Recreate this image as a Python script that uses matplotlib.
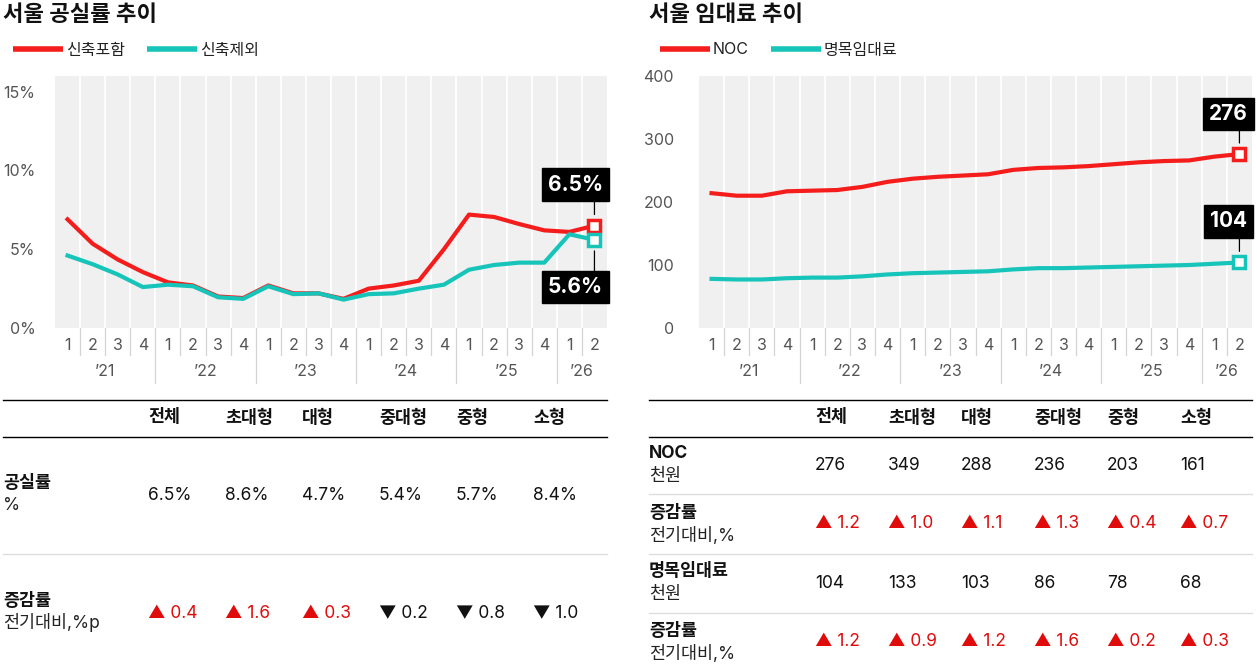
import matplotlib
matplotlib.use("Agg")
import matplotlib.pyplot as plt
import matplotlib.transforms as mtransforms

plt.rcParams['font.family'] = ['Inter', 'Noto Sans CJK KR', 'DejaVu Sans']

# ---- data ----
quarters = ['1', '2', '3', '4', '1', '2', '3', '4', '1', '2', '3', '4',
            '1', '2', '3', '4', '1', '2', '3', '4', '1', '2']
years = ['’21', '’22', '’23', '’24', '’25', '’26']
year_centers = [1.5, 5.5, 9.5, 13.5, 17.5, 20.5]

vac_incl = [6.9, 5.35, 4.35, 3.55, 2.9, 2.7, 2.0, 1.9, 2.7, 2.2, 2.2, 1.85,
            2.5, 2.7, 3.0, 5.0, 7.2, 7.05, 6.6, 6.2, 6.1, 6.5]
vac_excl = [4.6, 4.05, 3.4, 2.6, 2.75, 2.65, 1.95, 1.85, 2.65, 2.15, 2.2, 1.8,
            2.15, 2.2, 2.5, 2.75, 3.7, 4.0, 4.15, 4.15, 5.95, 5.6]

noc = [214, 210, 210, 217, 218, 219, 224, 232, 237, 240, 242, 244,
       251, 254, 255, 257, 260, 263, 265, 266, 272, 276]
rent = [78, 77, 77, 79, 80, 80, 82, 85, 87, 88, 89, 90,
        93, 95, 95, 96, 97, 98, 99, 100, 102, 104]

sizes = ['전체', '초대형', '대형', '중대형', '중형', '소형']
vac_rate = [6.5, 8.6, 4.7, 5.4, 5.7, 8.4]
vac_chg = [0.4, 1.6, 0.3, -0.2, -0.8, -1.0]
noc_by_size = [276, 349, 288, 236, 203, 161]
noc_chg = [1.2, 1.0, 1.1, 1.3, 0.4, 0.7]
rent_by_size = [104, 133, 103, 86, 78, 68]
rent_chg = [1.2, 0.9, 1.2, 1.6, 0.2, 0.3]

RED = '#f51c1c'
TEAL = '#17c4ba'
UP_RED = '#e00c0c'
GRAY_BG = '#f0f0f0'

W, H = 1257, 668
fig = plt.figure(figsize=(W / 100, H / 100), dpi=100)


def fx(px):
    return px / W


def fy(py):
    return 1 - py / H


def make_axes(left, right, top=76, bottom=328):
    return fig.add_axes([fx(left), fy(bottom), (right - left) / W, (bottom - top) / H])


def style_axes(ax, ylim, yticks, ylabels, ypad):
    n = len(quarters)
    ax.set_facecolor(GRAY_BG)
    for s in ax.spines.values():
        s.set_visible(False)
    ax.set_xlim(-0.5, n - 0.5)
    ax.set_ylim(*ylim)
    ax.set_yticks(yticks, labels=ylabels)
    ax.set_xticks(range(n), labels=quarters)
    ax.tick_params(axis='both', length=0, labelsize=11.5, labelcolor='#555555')
    ax.tick_params(axis='x', pad=7)
    ax.tick_params(axis='y', pad=ypad)
    h = 252.0
    for i in range(n - 1):
        xb = i + 0.5
        ax.axvline(xb, color='white', lw=1.3, zorder=1)
        if i in (3, 7, 11, 15, 19):
            ax.axvline(xb, ymin=-55 / h, ymax=0, color='#d4d4d4', lw=0.9, clip_on=False)
        else:
            ax.axvline(xb, ymin=-27 / h, ymax=0, color='#d4d4d4', lw=0.9, clip_on=False)
    trans = mtransforms.blended_transform_factory(ax.transData, ax.transAxes)
    for xc, lab in zip(year_centers, years):
        ax.text(xc, -43 / h, lab, transform=trans, ha='center', va='center',
                fontsize=11.5, color='#555555')


def end_label(ax, x, y, text, dy, dx, color):
    ax.plot([x], [y], marker='s', ms=9, mfc='white', mec=color, mew=2.5,
            zorder=6, clip_on=False)
    ax.annotate('', xy=(x, y), xytext=(0, dy * 0.7), textcoords='offset pixels',
                arrowprops=dict(arrowstyle='-', color='black', lw=0.9,
                                shrinkA=0, shrinkB=8), zorder=5)
    ax.annotate(text, xy=(x, y), xytext=(dx, dy), textcoords='offset pixels',
                ha='center', va='center', color='white', fontsize=15,
                fontweight='bold', zorder=7, annotation_clip=False,
                bbox=dict(boxstyle='square,pad=0.3', fc='black', ec='black'))


def add_legend(ax, x_px):
    leg = ax.legend(loc='center left', bbox_to_anchor=(fx(x_px), fy(50)),
                    bbox_transform=fig.transFigure, ncol=2, frameon=False,
                    fontsize=11.5, handlelength=3.1, handletextpad=0.2,
                    columnspacing=1.4, borderaxespad=0, borderpad=0)
    for ln in leg.get_lines():
        ln.set_linewidth(4)
        ln.set_solid_capstyle('butt')
    for t in leg.get_texts():
        t.set_color('#222222')


# ---- left chart: vacancy ----
ax1 = make_axes(55, 607)
style_axes(ax1, (0, 16), [0, 5, 10, 15], ['0%', '5%', '10%', '15%'], 14)
xs = list(range(len(quarters)))
ax1.plot(xs, vac_incl, color=RED, lw=3, label='신축포함', zorder=3,
         solid_joinstyle='round')
ax1.plot(xs, vac_excl, color=TEAL, lw=3, label='신축제외', zorder=3,
         solid_joinstyle='round')
end_label(ax1, xs[-1], vac_incl[-1], f'{vac_incl[-1]:.1f}%', 41, -19, RED)
end_label(ax1, xs[-1], vac_excl[-1], f'{vac_excl[-1]:.1f}%', -47, -19, TEAL)
add_legend(ax1, 13)

# ---- right chart: rent ----
ax2 = make_axes(699, 1252)
style_axes(ax2, (0, 400), [0, 100, 200, 300, 400],
           ['0', '100', '200', '300', '400'], 18)
ax2.plot(xs, noc, color=RED, lw=3, label='NOC', zorder=3, solid_joinstyle='round')
ax2.plot(xs, rent, color=TEAL, lw=3, label='명목임대료', zorder=3,
         solid_joinstyle='round')
end_label(ax2, xs[-1], noc[-1], f'{noc[-1]}', 40, -11, RED)
end_label(ax2, xs[-1], rent[-1], f'{rent[-1]}', 41, -11, TEAL)
add_legend(ax2, 660)

# ---- titles ----
fig.text(fx(3), fy(15), '서울 공실률 추이', fontsize=16, fontweight='bold',
         ha='left', va='center', color='#111111')
fig.text(fx(649), fy(15), '서울 임대료 추이', fontsize=16, fontweight='bold',
         ha='left', va='center', color='#111111')


# ---- tables ----
def hline(x0, x1, y, color, lw):
    fig.add_artist(plt.Line2D([fx(x0), fx(x1)], [fy(y), fy(y)], color=color, lw=lw))


def row_label(x, y_top, main, sub):
    fig.text(fx(x), fy(y_top), main, fontsize=12.5, fontweight='bold',
             ha='left', va='center', color='#111111')
    fig.text(fx(x), fy(y_top + 22), sub, fontsize=12.5,
             ha='left', va='center', color='#222222')


def chg_text(v):
    if v >= 0:
        return f'▲ {v:.1f}', UP_RED
    return f'▼ {abs(v):.1f}', '#111111'


def value_row(col_x, y, values, kind):
    for cx, v in zip(col_x, values):
        if kind == 'chg':
            s, c = chg_text(v)
        elif kind == 'pct':
            s, c = f'{v:.1f}%', '#111111'
        else:
            s, c = f'{v}', '#111111'
        fig.text(fx(cx), fy(y), s, fontsize=12.5, ha='left', va='center', color=c)


# left table
lcols = [148 + i * 77 for i in range(len(sizes))]
hline(3, 607, 400, 'black', 1.0)
hline(3, 607, 437, 'black', 1.0)
hline(3, 607, 554, '#dddddd', 1.0)
for cx, s in zip(lcols, sizes):
    fig.text(fx(cx), fy(418), s, fontsize=12.5, fontweight='bold',
             ha='left', va='center', color='#111111')
row_label(3, 484, '공실률', '%')
value_row(lcols, 496, vac_rate, 'pct')
row_label(3, 601, '증감률', '전기대비,%p')
value_row(lcols, 613, vac_chg, 'chg')

# right table
rcols = [815 + i * 73 for i in range(len(sizes))]
hline(649, 1252, 400, 'black', 1.0)
hline(649, 1252, 437, 'black', 1.0)
for yy in (494, 554, 613):
    hline(649, 1252, yy, '#dddddd', 1.0)
for cx, s in zip(rcols, sizes):
    fig.text(fx(cx), fy(418), s, fontsize=12.5, fontweight='bold',
             ha='left', va='center', color='#111111')
row_label(649, 454, 'NOC', '천원')
value_row(rcols, 465, noc_by_size, 'num')
row_label(649, 514, '증감률', '전기대비,%')
value_row(rcols, 524, noc_chg, 'chg')
row_label(649, 572, '명목임대료', '천원')
value_row(rcols, 583, rent_by_size, 'num')
row_label(649, 632, '증감률', '전기대비,%')
value_row(rcols, 642, rent_chg, 'chg')

fig.savefig('out.png', dpi=100)
